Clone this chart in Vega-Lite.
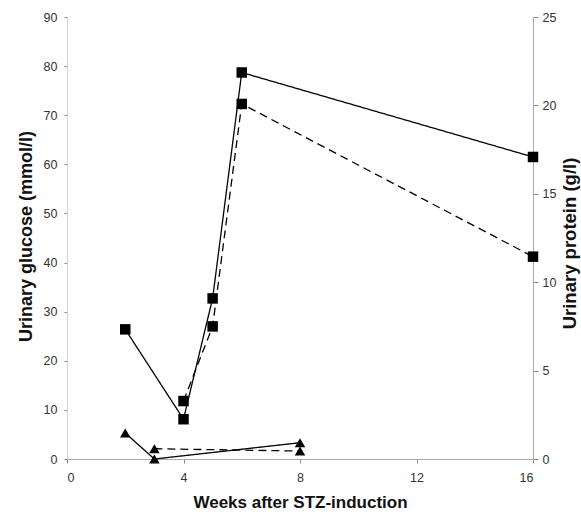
{
  "$schema": "https://vega.github.io/schema/vega-lite/v6.json",
  "width": 466,
  "height": 442,
  "autosize": {"type": "none"},
  "padding": {"left": 67, "top": 17, "right": 48, "bottom": 55},
  "background": "white",
  "config": {
    "view": {"stroke": null},
    "axis": {"labelFont": "Liberation Sans", "labelFontSize": 12.5, "labelColor": "#333", "titleFont": "Liberation Sans", "titleFontSize": 17, "titleFontWeight": "bold", "titleColor": "#111", "grid": false, "domainColor": "#aaa", "tickColor": "#888"}
  },
  "datasets": {
    "glucose": [
      {"week": 2, "value": 26.4, "group": "solid"},
      {"week": 4, "value": 8.1, "group": "solid"},
      {"week": 5, "value": 32.7, "group": "solid"},
      {"week": 6, "value": 78.7, "group": "solid"},
      {"week": 16, "value": 61.5, "group": "solid"},
      {"week": 4, "value": 11.8, "group": "dashed"},
      {"week": 5, "value": 27.0, "group": "dashed"},
      {"week": 6, "value": 72.3, "group": "dashed"},
      {"week": 16, "value": 41.2, "group": "dashed"}
    ],
    "protein": [
      {"week": 2, "value": 1.47, "group": "solid"},
      {"week": 3, "value": 0.0, "group": "solid"},
      {"week": 8, "value": 0.92, "group": "solid"},
      {"week": 3, "value": 0.58, "group": "dashed"},
      {"week": 8, "value": 0.45, "group": "dashed"}
    ]
  },
  "encoding": {
    "x": {"field": "week", "type": "quantitative", "scale": {"domain": [0, 16]},
      "axis": {"values": [0, 4, 8, 12, 16], "title": "Weeks after STZ-induction", "tickSize": 4, "labelPadding": 8, "titlePadding": 11, "titleFontSize": 17}}
  },
  "layer": [
    {
      "data": {"name": "glucose"},
      "encoding": {
        "y": {"field": "value", "type": "quantitative", "scale": {"domain": [0, 90]},
          "axis": {"orient": "left", "values": [0, 10, 20, 30, 40, 50, 60, 70, 80, 90], "title": "Urinary glucose (mmol/l)", "titleFontSize": 18, "tickSize": 3, "labelPadding": 7, "domainColor": "#d4d4d4", "titleX": -36, "titleY": 219, "titleAngle": -90, "titleBaseline": "alphabetic", "titleAlign": "center"}}
      },
      "layer": [
        {"mark": {"type": "line", "color": "black", "strokeWidth": 1.3},
          "encoding": {"strokeDash": {"field": "group", "type": "nominal", "scale": {"domain": ["solid", "dashed"], "range": [[1, 0], [8, 5]]}, "legend": null}}},
        {"mark": {"type": "point", "shape": "square", "filled": true, "color": "black", "opacity": 1, "size": 110}}
      ]
    },
    {
      "data": {"name": "protein"},
      "encoding": {
        "y": {"field": "value", "type": "quantitative", "scale": {"domain": [0, 25]},
          "axis": {"orient": "right", "values": [0, 5, 10, 15, 20, 25], "title": "Urinary protein (g/l)", "titleFontSize": 18.5, "tickSize": 5, "labelPadding": 4, "titleX": 42, "titleY": 226, "titleAngle": -90, "titleBaseline": "alphabetic", "titleAlign": "center"}}
      },
      "layer": [
        {"mark": {"type": "line", "color": "black", "strokeWidth": 1.3},
          "encoding": {"strokeDash": {"field": "group", "type": "nominal", "scale": {"domain": ["solid", "dashed"], "range": [[1, 0], [8, 5]]}, "legend": null}}},
        {"mark": {"type": "point", "shape": "triangle-up", "filled": true, "color": "black", "opacity": 1, "size": 110}}
      ]
    }
  ],
  "resolve": {"scale": {"y": "independent", "strokeDash": "independent"}}
}
